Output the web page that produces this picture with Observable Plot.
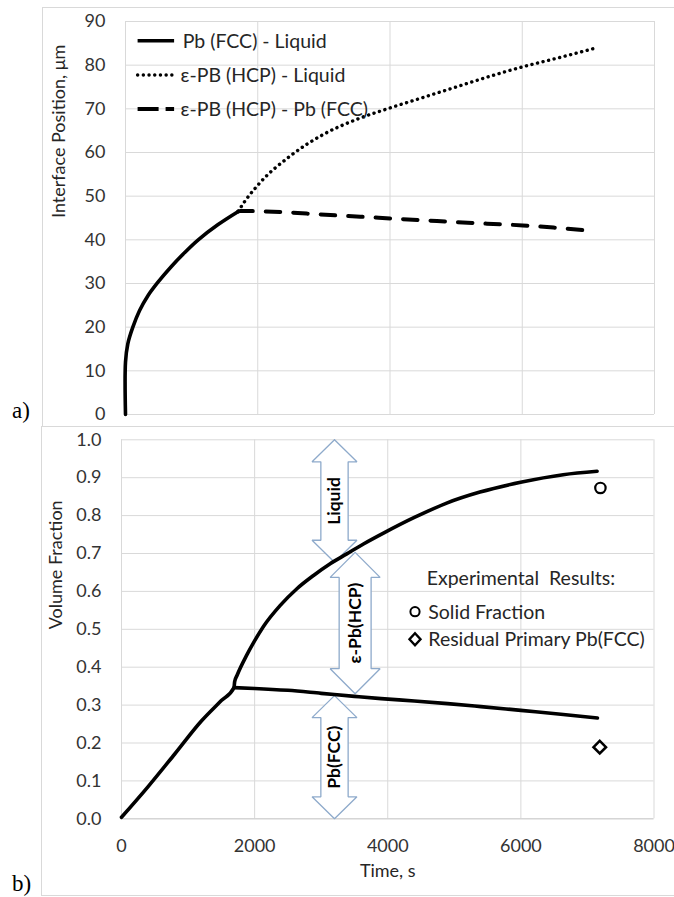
<!DOCTYPE html>
<html><head><meta charset="utf-8">
<script src="https://cdn.jsdelivr.net/npm/d3@7"></script>
<script src="https://cdn.jsdelivr.net/npm/@observablehq/plot@0.6"></script>
<style>
body{margin:0;background:#fff;}
#wrap{position:relative;width:674px;height:897px;overflow:hidden;font-family:Lato,sans-serif;color:#262626;}
.abs{position:absolute;white-space:nowrap;}
.frame{position:absolute;border:1px solid #d9d9d9;box-sizing:border-box;}
.lbl{position:absolute;font-family:"Liberation Serif",serif;font-size:23px;color:#000;}
.leg{position:absolute;font-size:19.5px;line-height:1;transform:translateY(-50%);white-space:nowrap;color:#262626;}
svg.plot{position:absolute;left:0;}
</style></head><body><div id="wrap"></div>
<script>
// ---------- DATA ----------
const timeTicks = [0, 2000, 4000, 6000, 8000];
const posTicks = [0, 10, 20, 30, 40, 50, 60, 70, 80, 90];
const fracTicks = [0, 0.1, 0.2, 0.3, 0.4, 0.5, 0.6, 0.7, 0.8, 0.9, 1.0];

// Panel a) interface positions (μm) vs time (s)
const fccLiqTime = [0, 0, 35, 111, 213, 339, 491, 694, 896, 1100, 1400, 1706];
const fccLiqPos  = [0, 12.0, 16.2, 20.0, 23.8, 27.2, 30.3, 33.9, 37.1, 40.0, 43.5, 46.5];

const hcpLiqTime = [1706, 1738, 2000, 2500, 3000, 3500, 4000, 4500, 5000, 5500, 6000, 6500, 7078];
const hcpLiqPos  = [46.5, 47.3, 52.5, 59.3, 64.2, 67.6, 70.2, 72.6, 75.0, 77.4, 79.6, 81.5, 83.8];

const hcpFccTime = [1706, 1738, 2443, 2947, 3552, 4015, 4710, 5466, 6010, 6473, 6952];
const hcpFccPos  = [46.5, 46.6, 46.3, 45.8, 45.3, 44.9, 44.3, 43.7, 43.3, 42.8, 42.2];

const legendA = ["Pb (FCC) - Liquid", "ε-PB (HCP) - Liquid", "ε-PB (HCP) - Pb (FCC)"];

// Panel b) volume fractions vs time (s)
const solidTime = [0, 400, 800, 1200, 1500, 1690, 1700, 1735, 1885, 1995, 2135, 2385, 2635, 2885, 3135, 3385, 3635, 3950, 4400, 4885, 5385, 5996, 6635, 7145];
const solidFrac = [0.004, 0.085, 0.171, 0.258, 0.312, 0.346, 0.362, 0.378, 0.433, 0.468, 0.508, 0.563, 0.607, 0.642, 0.673, 0.699, 0.725, 0.755, 0.795, 0.833, 0.862, 0.888, 0.908, 0.917];

const fccTime = [1690, 2000, 2500, 3000, 3500, 3900, 4400, 4900, 5400, 6000, 6600, 7150];
const fccFrac = [0.346, 0.344, 0.339, 0.331, 0.323, 0.317, 0.311, 0.304, 0.296, 0.286, 0.276, 0.266];

const expSolidTime = [7195];
const expSolidFrac = [0.873];
const expFccTime = [7185];
const expFccFrac = [0.189];

const regionNames = ["Liquid", "ε-Pb(HCP)", "Pb(FCC)"];
const regionTime  = [3200, 3510, 3200];
const regionLow   = [0.677, 0.330, 0.0];
const regionHigh  = [1.0, 0.703, 0.325];

const legendB = ["Experimental  Results:", "Solid Fraction", "Residual Primary Pb(FCC)"];

// ---------- BUILD ----------
const wrap = document.getElementById("wrap");
const pts = (xs, ys) => xs.map((x, i) => ({t: x, v: ys[i]}));
const GRID = "#d9d9d9";
const TXT = "#333333";

// frames & panel labels
wrap.insertAdjacentHTML("beforeend", `
<div class="frame" style="left:42px;top:7px;width:660px;height:420px"></div>
<div class="frame" style="left:41px;top:426px;width:660px;height:470px"></div>
<div class="lbl" style="left:12px;top:398px">a)</div>
<div class="lbl" style="left:12px;top:871px">b)</div>`);

const baseStyle = {fontFamily: "Lato, sans-serif", fontSize: "18px", color: TXT, background: "transparent", overflow: "visible"};

// ----- Panel a -----
const plotA = Plot.plot({
  width: 674, height: 426,
  marginLeft: 125, marginRight: 20, marginTop: 21, marginBottom: 12,
  style: baseStyle,
  x: {domain: [0, 8000]},
  y: {domain: [0, 90]},
  marks: [
    Plot.gridX(timeTicks, {stroke: GRID, strokeOpacity: 1}),
    Plot.gridY(posTicks, {stroke: GRID, strokeOpacity: 1}),
    Plot.axisY(posTicks, {tickSize: 0, tickPadding: 20, fontSize: 18, fill: TXT, label: null}),
    Plot.axisX({ticks: [], label: null, tickSize: 0}),
    Plot.text(["Interface Position, μm"], {frameAnchor: "left", dx: -66, rotate: -90, fontSize: 18, fill: "#262626"}),
    Plot.line(pts(hcpLiqTime, hcpLiqPos), {x: "t", y: "v", curve: "monotone-x", stroke: "#000", strokeWidth: 3.4, strokeDasharray: "0.1,5.6", strokeLinecap: "round"}),
    Plot.line(pts(hcpFccTime, hcpFccPos), {x: "t", y: "v", curve: "monotone-x", stroke: "#000", strokeWidth: 4, strokeDasharray: "14.5,13"}),
    Plot.line(pts(fccLiqTime, fccLiqPos), {x: "t", y: "v", curve: "catmull-rom", stroke: "#000", strokeWidth: 3.6})
  ]
});
plotA.classList.add("plot");
plotA.style.top = "0px";
wrap.appendChild(plotA);

// legend a (HTML overlay)
const legAy = [40.7, 75, 109];
const legAx = [182.7, 180.6, 180.6];
const legAstyles = [
  `stroke-width="3.6"`,
  `stroke-width="3.4" stroke-dasharray="0.1,5.6" stroke-linecap="round"`,
  `stroke-width="4" stroke-dasharray="21,7"`
];
let svgA = `<svg class="abs" style="left:0;top:0" width="674" height="140">`;
legAy.forEach((y, i) => { svgA += `<line x1="137.6" x2="174.1" y1="${y}" y2="${y}" stroke="#000" ${legAstyles[i]}/>`; });
svgA += `</svg>`;
wrap.insertAdjacentHTML("beforeend", svgA);
legendA.forEach((s, i) => {
  wrap.insertAdjacentHTML("beforeend", `<div class="leg" style="left:${legAx[i]}px;top:${legAy[i]}px">${s}</div>`);
});

// ----- Panel b -----
const HEAD_HALF = [337, 375, 337];   // s
const SHAFT_HALF = [205, 240, 205];  // s
const HEAD_LEN = [0.058, 0.066, 0.058]; // fraction
const arrowPts = [];
regionNames.forEach((name, i) => {
  const xc = regionTime[i], y0 = regionLow[i], y1 = regionHigh[i];
  const hh = HEAD_HALF[i], sh = SHAFT_HALF[i], hl = HEAD_LEN[i];
  const poly = [
    [xc, y1], [xc + hh, y1 - hl], [xc + sh, y1 - hl], [xc + sh, y0 + hl], [xc + hh, y0 + hl],
    [xc, y0], [xc - hh, y0 + hl], [xc - sh, y0 + hl], [xc - sh, y1 - hl], [xc - hh, y1 - hl], [xc, y1]
  ];
  poly.forEach(([t, v]) => arrowPts.push({id: name, t, v}));
});
const arrowLabels = regionNames.map((n, i) => ({n, t: regionTime[i], v: (regionLow[i] + regionHigh[i]) / 2}));

const plotB = Plot.plot({
  width: 674, height: 471,
  marginLeft: 121, marginRight: 20.5, marginTop: 13.3, marginBottom: 78.7,
  style: baseStyle,
  x: {domain: [0, 8000]},
  y: {domain: [0, 1]},
  marks: [
    Plot.gridX(timeTicks, {stroke: GRID, strokeOpacity: 1}),
    Plot.gridY(fracTicks, {stroke: GRID, strokeOpacity: 1}),
    Plot.ruleY([0], {stroke: "#cfcfcf"}),
    Plot.axisY(fracTicks, {tickSize: 0, tickPadding: 20, fontSize: 18, fill: TXT, tickFormat: d3.format(".1f"), label: null}),
    Plot.axisX(timeTicks, {tickSize: 0, tickPadding: 20, fontSize: 18, fill: TXT, tickFormat: d => String(d), label: null}),
    Plot.text(["Volume Fraction"], {frameAnchor: "left", dx: -65, rotate: -90, fontSize: 18, fill: "#262626"}),
    Plot.text(["Time, s"], {frameAnchor: "bottom", dy: 57.7, fontSize: 18, fill: "#262626"}),
    Plot.line(arrowPts, {x: "t", y: "v", z: "id", stroke: "#8eaacb", strokeWidth: 1.3, fill: "white", curve: "linear", strokeLinejoin: "miter"}),
    Plot.text(arrowLabels, {x: "t", y: "v", text: "n", rotate: -90, fontSize: 17.5, fontWeight: "bold", fill: "#000"}),
    Plot.line(pts(solidTime, solidFrac), {x: "t", y: "v", curve: "monotone-x", stroke: "#000", strokeWidth: 3.6}),
    Plot.line(pts(fccTime, fccFrac), {x: "t", y: "v", curve: "monotone-x", stroke: "#000", strokeWidth: 3.6}),
    Plot.dot(pts(expSolidTime, expSolidFrac), {x: "t", y: "v", r: 5.2, stroke: "#000", strokeWidth: 2.2, fill: "white"}),
    Plot.dot(pts(expFccTime, expFccFrac), {x: "t", y: "v", r: 5.6, symbol: "diamond2", stroke: "#000", strokeWidth: 2.6, fill: "white"})
  ]
});
plotB.classList.add("plot");
plotB.style.top = "426px";
wrap.appendChild(plotB);

// legend b (HTML overlay)
wrap.insertAdjacentHTML("beforeend", `
<svg class="abs" style="left:400px;top:595px" width="40" height="60">
  <circle cx="15" cy="16.7" r="4.6" fill="white" stroke="#000" stroke-width="2"/>
  <path d="M15,38.3 L20.5,44.3 L15,50.3 L9.5,44.3 Z" fill="white" stroke="#000" stroke-width="2.4"/>
</svg>`);
const legBx = [426.7, 428.3, 428.3];
const legBy = [578, 611.7, 639.3];
legendB.forEach((s, i) => {
  wrap.insertAdjacentHTML("beforeend", `<div class="leg" style="left:${legBx[i]}px;top:${legBy[i]}px;white-space:pre">${s}</div>`);
});
</script>
</body></html>
